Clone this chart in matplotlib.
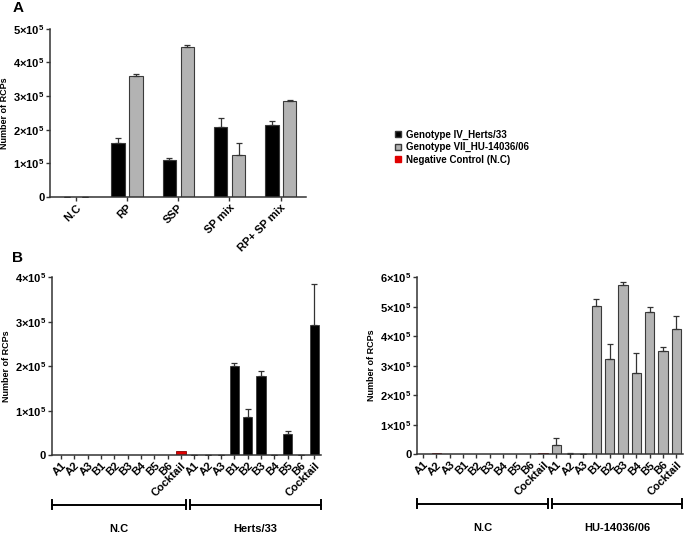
import numpy as np
import matplotlib.pyplot as plt
from matplotlib.lines import Line2D

plt.rcParams['font.family'] = ['Liberation Sans', 'DejaVu Sans']
plt.rcParams['font.weight'] = 'bold'
plt.rcParams['mathtext.fontset'] = 'custom'
plt.rcParams['mathtext.rm'] = 'Liberation Sans:bold'
plt.rcParams['mathtext.bf'] = 'Liberation Sans:bold'

# ---- panel A data ----
a_cats = ["N.C", "RP", "SSP", "SP mix", "RP+ SP mix"]
a_herts = [1000, 160000, 111000, 207000, 214000]
a_herts_err = [0, 15000, 5000, 28000, 12000]
a_hu = [0, 359000, 447000, 126000, 286000]
a_hu_err = [0, 6000, 5000, 34000, 1000]

# ---- panel B data ----
b_labels = ["A1", "A2", "A3", "B1", "B2", "B3", "B4", "B5", "B6", "Cocktail"]
b_nc_left = [0, 0, 0, 800, 0, 0, 0, 0, 0, 9000]
b_herts = [1000, 1000, 500, 200000, 85000, 178000, 1000, 47000, 1000, 293000]
b_herts_err = [0, 0, 0, 8000, 18000, 12000, 0, 6000, 0, 93000]
b_nc_right = [0, 4000, 0, 0, 0, 0, 0, 0, 0, 3000]
b_hu = [32000, 2000, 0, 503000, 321000, 574000, 276000, 481000, 350000, 424000]
b_hu_err = [22000, 1000, 0, 24000, 53000, 11000, 66000, 17000, 12000, 43000]

BLACK = "#000000"
GRAY = "#b3b3b3"
EDGE = "#3a3a3a"
RED = "#e00000"
DARKRED = "#8b0000"


def sci_label(v):
    if v == 0:
        return "0"
    return r"$%d{\times}10^5$" % int(round(v / 1e5))


def style_axis(ax, ymax):
    for s in ["top", "right"]:
        ax.spines[s].set_visible(False)
    for s in ["left", "bottom"]:
        ax.spines[s].set_linewidth(1.1)
        ax.spines[s].set_color("#333333")
    ticks = np.arange(0, ymax + 1, 1e5)
    ax.set_ylim(0, ymax)
    ax.set_yticks(ticks)
    ax.set_yticklabels([sci_label(t) for t in ticks], fontsize=8, fontweight="bold")
    ax.tick_params(axis="both", length=3, width=1, color="#333333", pad=1)
    ax.set_ylabel("Number of RCPs", fontsize=6.5, fontweight="bold", labelpad=3)


fig = plt.figure(figsize=(6.85, 5.35), dpi=100)

# ---------------- Panel A ----------------
axA = fig.add_axes([0.073, 0.632, 0.374, 0.314])
x = np.arange(len(a_cats))
w = 0.26
axA.bar(x - 0.17, a_herts, w, color=BLACK, edgecolor=EDGE, linewidth=0.8,
        yerr=[np.zeros(len(x)), a_herts_err], capsize=2.5,
        error_kw=dict(elinewidth=0.9, ecolor="#333333", capthick=0.9))
axA.bar(x + 0.18, a_hu, w, color=GRAY, edgecolor=EDGE, linewidth=0.8,
        yerr=[np.zeros(len(x)), a_hu_err], capsize=2.5,
        error_kw=dict(elinewidth=0.9, ecolor="#333333", capthick=0.9))
axA.set_xlim(-0.5, 4.5)
axA.set_xticks(x)
axA.set_xticklabels(a_cats, rotation=45, ha="right", rotation_mode="anchor",
                    fontsize=8, fontweight="bold")
style_axis(axA, 5e5)
fig.text(0.018, 0.978, "A", fontsize=11, fontweight="bold")

# legend
handles = [
    Line2D([], [], marker="s", ls="", markersize=5, markerfacecolor=BLACK, markeredgecolor=EDGE),
    Line2D([], [], marker="s", ls="", markersize=5, markerfacecolor=GRAY, markeredgecolor=EDGE),
    Line2D([], [], marker="s", ls="", markersize=5, markerfacecolor=RED, markeredgecolor=RED),
]
fig.legend(handles, ["Genotype IV_Herts/33", "Genotype VII_HU-14036/06", "Negative Control (N.C)"],
           loc="upper left", bbox_to_anchor=(0.568, 0.765), frameon=False,
           prop=dict(size=7, weight="bold"), handletextpad=0.3, labelspacing=0.25,
           handlelength=1.0, borderaxespad=0)

# ---------------- Panel B ----------------
n = len(b_labels)
xb = np.arange(2 * n)
bw = 0.7
all_labels = b_labels + b_labels


def group_bracket(ax, x0, x1, label):
    trans = ax.get_xaxis_transform()
    ax.plot([x0, x1], [-0.28, -0.28], color="black", lw=1.4, transform=trans, clip_on=False)
    for xx in (x0, x1):
        ax.plot([xx, xx], [-0.305, -0.255], color="black", lw=1.4, transform=trans, clip_on=False)
    ax.text((x0 + x1) / 2, -0.415, label, transform=trans, ha="center", va="center",
            fontsize=8, fontweight="bold")


# left: Herts/33
axB1 = fig.add_axes([0.0755, 0.1495, 0.393, 0.332])
axB1.bar(xb[:n], b_nc_left, bw, color=RED, edgecolor=DARKRED, linewidth=0.6)
axB1.bar(xb[n:], b_herts, bw, color=BLACK, edgecolor=EDGE, linewidth=0.6,
         yerr=[np.zeros(n), b_herts_err], capsize=2,
         error_kw=dict(elinewidth=0.9, ecolor="#333333", capthick=0.9))
axB1.set_xlim(-0.7, 2 * n - 0.5)
axB1.set_xticks(xb)
axB1.set_xticklabels(all_labels, rotation=45, ha="right", rotation_mode="anchor",
                     fontsize=8, fontweight="bold")
style_axis(axB1, 4e5)
group_bracket(axB1, -0.7, n - 0.6, "N.C")
group_bracket(axB1, n - 0.35, 2 * n - 0.5, "Herts/33")
fig.text(0.018, 0.51, "B", fontsize=11, fontweight="bold")

# right: HU-14036/06
axB2 = fig.add_axes([0.609, 0.151, 0.388, 0.331])
axB2.bar(xb[:n], b_nc_right, bw, color=DARKRED, edgecolor=DARKRED, linewidth=0.6)
axB2.bar(xb[n:], b_hu, bw, color=GRAY, edgecolor=EDGE, linewidth=0.8,
         yerr=[np.zeros(n), b_hu_err], capsize=2,
         error_kw=dict(elinewidth=0.9, ecolor="#333333", capthick=0.9))
axB2.set_xlim(-0.45, 2 * n - 0.5)
axB2.set_xticks(xb)
axB2.set_xticklabels(all_labels, rotation=45, ha="right", rotation_mode="anchor",
                     fontsize=8, fontweight="bold")
style_axis(axB2, 6e5)
group_bracket(axB2, -0.45, n - 0.6, "N.C")
group_bracket(axB2, n - 0.35, 2 * n - 0.55, "HU-14036/06")

fig.savefig("out.png", dpi=100)
